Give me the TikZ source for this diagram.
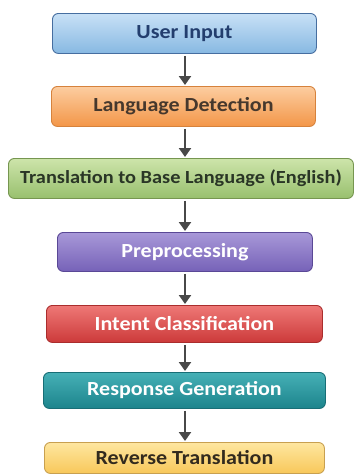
\documentclass[tikz,border=0pt]{standalone}
\usepackage{fontspec}
\setmainfont[FakeStretch=1.1]{Carlito}
\usetikzlibrary{arrows.meta,shadows}
\definecolor{arr}{HTML}{484848}
\tikzset{
  stepbox/.style={draw, line width=0.9pt, rounded corners=6pt, anchor=north west, inner sep=0pt,
     font=\bfseries\fontsize{20}{24}\selectfont},
  flow/.style={draw=arr, line width=2.6pt, -{Triangle[width=12pt,length=9pt]}, shorten >=1pt, shorten <=2pt},
}
\begin{document}
\begin{tikzpicture}[x=1pt,y=-1pt]
\useasboundingbox (0,0) rectangle (355,475);
\node[stepbox, minimum width=264pt, minimum height=40pt, draw={rgb,255:red,70;green,110;blue,160}, top color={rgb,255:red,200;green,225;blue,246}, bottom color={rgb,255:red,135;green,184;blue,226}, text={rgb,255:red,35;green,62;blue,110}] (a) at (52,13) {User Input};
\node[stepbox, minimum width=264pt, minimum height=40pt, draw={rgb,255:red,214;green,130;blue,60}, top color={rgb,255:red,252;green,205;blue,160}, bottom color={rgb,255:red,243;green,150;blue,72}, text={rgb,255:red,70;green,56;blue,45}] (b) at (51,86) {Language Detection};
\node[stepbox, minimum width=345pt, minimum height=40pt, draw={rgb,255:red,118;green,150;blue,80}, top color={rgb,255:red,205;green,228;blue,170}, bottom color={rgb,255:red,152;green,192;blue,110}, text={rgb,255:red,42;green,54;blue,38}, font=\bfseries\fontsize{18.5}{22}\selectfont] (c) at (8,158) {Translation to Base Language (English)};
\node[stepbox, minimum width=255pt, minimum height=39pt, draw={rgb,255:red,90;green,72;blue,150}, top color={rgb,255:red,168;green,152;blue,216}, bottom color={rgb,255:red,118;green,98;blue,184}, text=white] (d) at (57,232) {Preprocessing};
\node[stepbox, minimum width=276pt, minimum height=37pt, draw={rgb,255:red,170;green,45;blue,45}, top color={rgb,255:red,238;green,120;blue,118}, bottom color={rgb,255:red,204;green,58;blue,58}, text=white] (e) at (46,305) {Intent Classification};
\node[stepbox, minimum width=282pt, minimum height=36pt, draw={rgb,255:red,24;green,110;blue,118}, top color={rgb,255:red,70;green,176;blue,182}, bottom color={rgb,255:red,28;green,132;blue,140}, text=white] (f) at (43,372) {Response Generation};
\node[stepbox, minimum width=280pt, minimum height=31pt, draw={rgb,255:red,200;green,160;blue,80}, top color={rgb,255:red,254;green,230;blue,160}, bottom color={rgb,255:red,248;green,200;blue,90}, text={rgb,255:red,50;green,42;blue,30}] (g) at (44,442) {Reverse Translation};
\coordinate (ax) at (185,0);
\draw[flow] (a.south -| ax) -- (b.north -| ax);
\draw[flow] (b.south -| ax) -- (c.north -| ax);
\draw[flow] (c.south -| ax) -- (d.north -| ax);
\draw[flow] (d.south -| ax) -- (e.north -| ax);
\draw[flow] (e.south -| ax) -- (f.north -| ax);
\draw[flow] (f.south -| ax) -- (g.north -| ax);
\end{tikzpicture}
\end{document}
